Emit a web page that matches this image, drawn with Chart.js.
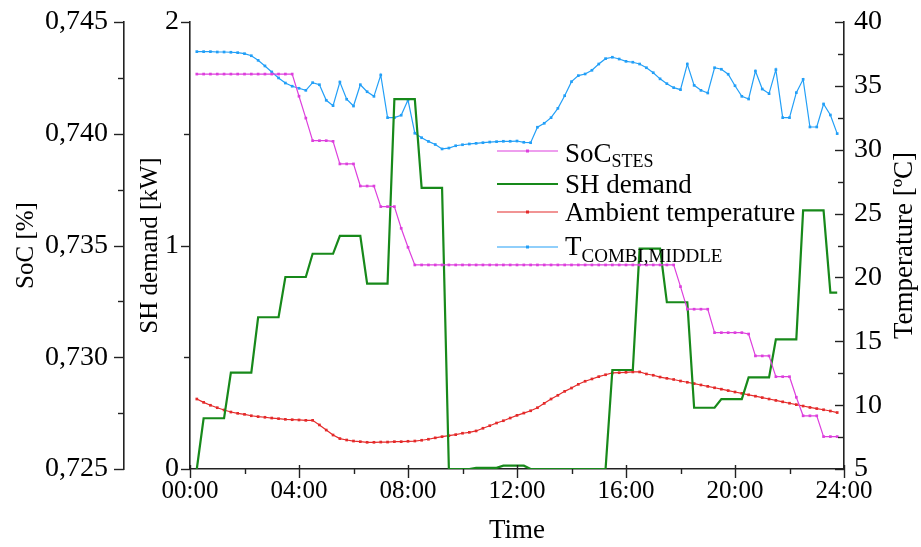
<!DOCTYPE html>
<html><head><meta charset="utf-8">
<script src="https://cdn.jsdelivr.net/npm/chart.js@4.4.1/dist/chart.umd.min.js"></script>
<style>html,body{margin:0;padding:0;background:#fff;}canvas{display:block;}</style>
</head><body>
<canvas id="c" width="921" height="547"></canvas>
<script>
// ---- data (time in minutes after midnight) ----
const timeMinutes = [15,30,45,60,75,90,105,120,135,150,165,180,195,210,225,240,255,270,285,300,315,330,345,360,375,390,405,420,435,450,465,480,495,510,525,540,555,570,585,600,615,630,645,660,675,690,705,720,735,750,765,780,795,810,825,840,855,870,885,900,915,930,945,960,975,990,1005,1020,1035,1050,1065,1080,1095,1110,1125,1140,1155,1170,1185,1200,1215,1230,1245,1260,1275,1290,1305,1320,1335,1350,1365,1380,1395,1410,1425];

const socValues = [0.74267,0.74267,0.74267,0.74267,0.74267,0.74267,0.74267,0.74267,0.74267,0.74267,0.74267,0.74267,0.74267,0.74267,0.74267,
0.74168,0.7407,0.73969,0.73969,0.73969,0.73966,0.73865,0.73865,0.73865,0.73766,0.73766,0.73766,0.73674,0.73674,0.73674,0.73577,0.73492,
0.73413,0.73413,0.73413,0.73413,0.73413,0.73413,0.73413,0.73413,0.73413,0.73413,0.73413,0.73413,0.73413,0.73413,0.73413,0.73413,0.73413,0.73413,0.73413,0.73413,
0.73413,0.73413,0.73413,0.73413,0.73413,0.73413,0.73413,0.73413,0.73413,0.73413,0.73413,0.73413,0.73413,0.73413,0.73413,0.73413,0.73413,0.73413,0.73413,
0.73316,0.73215,0.73215,0.73215,0.73215,0.7311,0.7311,0.7311,0.7311,0.7311,0.73104,0.73006,0.73006,0.73006,0.72913,0.72913,0.72913,0.72821,0.72738,0.72738,0.72738,0.72645,0.72645,0.72645];

const shDemand = [0,0.227,0.227,0.227,0.227,0.431,0.431,0.431,0.431,0.679,0.679,0.679,0.679,0.859,0.859,0.859,0.859,0.963,0.963,0.963,0.963,
1.043,1.043,1.043,1.043,0.829,0.829,0.829,0.829,1.655,1.655,1.655,1.655,1.258,1.258,1.258,1.258,0,0,0,0,0.005,0.005,0.005,0.005,0.015,0.015,0.015,0.015,
0,0,0,0,0,0,0,0,0,0,0,0,0.443,0.443,0.443,0.443,0.986,0.986,0.986,0.986,0.746,0.746,0.746,0.746,0.274,0.274,0.274,0.274,0.313,0.313,0.313,0.313,
0.41,0.41,0.41,0.41,0.58,0.58,0.58,0.58,1.157,1.157,1.157,1.157,0.789,0.789];

const ambientTemp = [10.48,10.22,9.99,9.80,9.62,9.46,9.36,9.28,9.17,9.10,9.05,8.99,8.94,8.89,8.86,8.84,8.81,8.81,8.45,8.05,7.66,7.38,7.27,7.19,7.14,7.09,7.09,7.11,7.11,7.14,7.14,7.17,7.19,
7.25,7.33,7.44,7.53,7.61,7.69,7.80,7.87,7.98,8.19,8.39,8.60,8.78,8.99,9.20,9.38,9.56,9.80,10.14,10.48,10.77,11.08,11.34,11.63,11.87,12.05,12.23,12.38,12.52,12.54,12.57,12.60,12.60,
12.44,12.34,12.20,12.10,12.01,11.89,11.79,11.69,11.58,11.47,11.36,11.25,11.14,11.03,10.92,10.81,10.70,10.59,10.48,10.37,10.26,10.15,10.04,9.93,9.82,9.73,9.64,9.54,9.42];

const tCombiMiddle = [37.68,37.68,37.68,37.65,37.65,37.63,37.60,37.52,37.36,37.00,36.56,36.09,35.62,35.22,34.97,34.81,34.65,35.25,35.09,33.87,33.45,35.30,33.95,33.42,35.09,34.54,34.18,35.85,
32.51,32.51,32.70,33.89,31.29,30.94,30.65,30.41,30.06,30.13,30.31,30.39,30.45,30.50,30.55,30.60,30.63,30.66,30.66,30.68,30.58,30.55,31.76,32.07,32.51,33.24,34.23,35.33,35.80,35.93,
36.22,36.71,37.13,37.24,37.10,36.92,36.85,36.71,36.42,36.03,35.55,35.17,34.86,34.70,36.71,35.04,34.65,34.44,36.42,36.30,35.91,35.01,34.18,33.97,36.16,34.75,34.39,36.27,32.51,32.51,
34.47,35.51,31.78,31.78,33.58,32.72,31.26];

const seriesNames = ['SoC', 'SH demand', 'Ambient temperature', 'T'];
const seriesSubs = ['STES', '', '', 'COMBI,MIDDLE'];

// ---- styles ----
const FONT = "'Liberation Serif', 'Times New Roman', serif";
const C_SOC = '#dd3fdd', C_SH = '#17891a', C_AMB = '#e42a2a', C_T = '#229ff7';
const AXIS = '#222';

function pts(vals){ return timeMinutes.map((t,i)=>({x:t, y:vals[i]})); }
function hhmm(m){ const h = Math.round(m/60); return String(h).padStart(2,'0') + ':00'; }

const tickPlugin = {
  id: 'minorMajorTicks',
  afterDraw(chart){
    const ctx = chart.ctx, s = chart.scales;
    ctx.save();
    ctx.strokeStyle = AXIS; ctx.lineWidth = 1.4;
    function yTicks(scale, axisX, min, step, n, majLen, minLen){
      for(let i=0;i<=n;i++){
        const y = Math.round(scale.getPixelForValue(min + i*step)) + 0.5;
        const len = (i % 2 === 0) ? majLen : minLen;
        ctx.beginPath(); ctx.moveTo(axisX - len, y); ctx.lineTo(axisX, y); ctx.stroke();
      }
    }
    yTicks(s.ySoC, s.ySoC.right, 0.725, 0.0025, 8, 10, 6);
    yTicks(s.ySH, s.ySH.right, 0, 0.5, 4, 9, 6);
    yTicks(s.yT, s.yT.left, 5, 2.5, 14, 9, 6);
    const ay = s.x.top;
    for(let i=0;i<=12;i++){
      const x = Math.round(s.x.getPixelForValue(i*120)) + 0.5;
      ctx.beginPath();
      if(i%2===0){ ctx.moveTo(x, ay - 4); ctx.lineTo(x, ay + 9); }
      else { ctx.moveTo(x, ay); ctx.lineTo(x, ay + 5); }
      ctx.stroke();
    }
    // right axis title (reads bottom to top)
    ctx.fillStyle = '#000';
    ctx.font = '27px ' + FONT;
    ctx.translate(905, (s.yT.top + s.yT.bottom)/2);
    ctx.rotate(-Math.PI/2);
    ctx.textAlign = 'center'; ctx.textBaseline = 'middle';
    ctx.fillText('Temperature [ºC]', 0, 0);
    ctx.restore();
  }
};

const legendPlugin = {
  id: 'customLegend',
  afterDraw(chart){
    const ctx = chart.ctx;
    const rows = [
      {ds:0, lineY:151, baseY:162, subDy:5, subSize:18},
      {ds:1, lineY:184, baseY:193, subDy:0, subSize:18},
      {ds:2, lineY:212, baseY:221, subDy:0, subSize:18},
      {ds:3, lineY:247, baseY:255, subDy:7, subSize:19}
    ];
    ctx.save();
    rows.forEach((r, idx)=>{
      const d = chart.data.datasets[r.ds];
      ctx.strokeStyle = d.borderColor; ctx.lineWidth = d.borderWidth;
      ctx.beginPath(); ctx.moveTo(497, r.lineY); ctx.lineTo(558, r.lineY); ctx.stroke();
      if(d.pointRadius > 0){ ctx.fillStyle = d.borderColor; ctx.fillRect(526, r.lineY-1.5, 3, 3); }
      ctx.fillStyle = '#000'; ctx.textBaseline = 'alphabetic'; ctx.textAlign = 'left';
      ctx.font = '27px ' + FONT;
      ctx.fillText(seriesNames[idx], 565, r.baseY);
      const w = ctx.measureText(seriesNames[idx]).width;
      if(seriesSubs[idx]){
        ctx.font = r.subSize + 'px ' + FONT;
        ctx.fillText(seriesSubs[idx], 565 + w, r.baseY + r.subDy);
      }
    });
    ctx.restore();
  }
};

const tickFont = {family: FONT, size: 28};
const titleFont = {family: FONT, size: 25, lineHeight: 1.2};

function noPadV(s){ s.paddingTop = 0; s.paddingBottom = 0; }

new Chart(document.getElementById('c'), {
  type: 'line',
  data: { datasets: [
    {label:'SoC STES', data: pts(socValues), yAxisID:'ySoC', borderColor:C_SOC, backgroundColor:C_SOC, borderWidth:1.2, pointStyle:'rect', pointRadius:1.9, pointBorderWidth:0, tension:0},
    {label:'SH demand', data: pts(shDemand), yAxisID:'ySH', borderColor:C_SH, backgroundColor:C_SH, borderWidth:2.2, pointRadius:0, tension:0},
    {label:'Ambient temperature', data: pts(ambientTemp), yAxisID:'yT', borderColor:C_AMB, backgroundColor:C_AMB, borderWidth:1.2, pointStyle:'rect', pointRadius:1.9, pointBorderWidth:0, tension:0},
    {label:'T COMBI,MIDDLE', data: pts(tCombiMiddle), yAxisID:'yT', borderColor:C_T, backgroundColor:C_T, borderWidth:1.2, pointStyle:'rect', pointRadius:1.9, pointBorderWidth:0, tension:0}
  ]},
  options: {
    responsive:false, animation:false, devicePixelRatio:1,
    layout:{padding:{top:22, left:0, right:0, bottom:0}},
    plugins:{legend:{display:false}, tooltip:{enabled:false}},
    scales:{
      x:{type:'linear', position:'bottom', min:0, max:1440,
         ticks:{stepSize:240, callback:v=>hhmm(v), font:{family:FONT,size:25}, color:'#000', padding:7, maxRotation:0, autoSkip:false},
         grid:{display:true, drawOnChartArea:false, drawTicks:false},
         border:{display:true, color:AXIS, width:1.6},
         title:{display:true, text:'Time', font:{family:FONT,size:27,lineHeight:1.2}, color:'#000', padding:{top:0, bottom:0}},
         afterFit(s){ s.height = 78; s.paddingLeft = 0; s.paddingRight = 0; }},
      ySoC:{type:'linear', position:'left', weight:2, min:0.725, max:0.745,
         ticks:{stepSize:0.005, callback:v=>v.toFixed(3).replace('.', ','), font:tickFont, color:'#000', padding:16},
         grid:{display:true, drawOnChartArea:false, drawTicks:false},
         border:{display:true, color:AXIS, width:1.6},
         title:{display:true, text:'SoC [%]', font:titleFont, color:'#000', padding:{top:11, bottom:0}},
         afterFit(s){ s.width = 124; noPadV(s); }},
      ySH:{type:'linear', position:'left', weight:1, min:0, max:2,
         ticks:{stepSize:1, font:tickFont, color:'#000', padding:11},
         grid:{display:true, drawOnChartArea:false, drawTicks:false},
         border:{display:true, color:AXIS, width:1.6},
         title:{display:true, text:'SH demand [kW]', font:titleFont, color:'#000', padding:{top:11, bottom:0}},
         afterFit(s){ s.width = 66; noPadV(s); }},
      yT:{type:'linear', position:'right', min:5, max:40,
         ticks:{stepSize:5, font:tickFont, color:'#000', padding:10},
         grid:{display:true, drawOnChartArea:false, drawTicks:false},
         border:{display:true, color:AXIS, width:1.6},
         title:{display:false},
         afterFit(s){ s.width = 77; noPadV(s); }}
    }
  },
  plugins:[tickPlugin, legendPlugin]
});
</script>
</body></html>
